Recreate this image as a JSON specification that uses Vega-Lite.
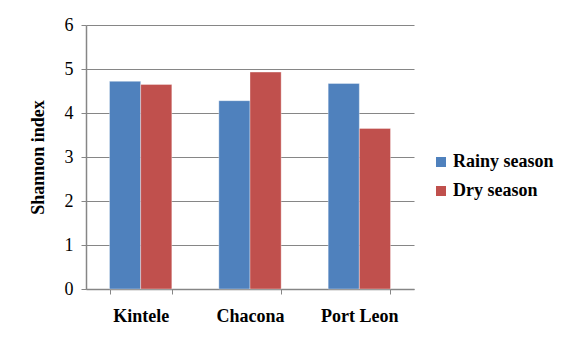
{
  "$schema": "https://vega.github.io/schema/vega-lite/v6.json",
  "autosize": "none",
  "width": 328,
  "height": 264,
  "padding": {"left": 86, "top": 25, "right": 153, "bottom": 50},
  "background": "white",
  "data": {
    "values": [
      {"site": "Kintele", "season": "Rainy season", "shannon": 4.72},
      {"site": "Kintele", "season": "Dry season", "shannon": 4.65},
      {"site": "Chacona", "season": "Rainy season", "shannon": 4.28},
      {"site": "Chacona", "season": "Dry season", "shannon": 4.93},
      {"site": "Port Leon", "season": "Rainy season", "shannon": 4.67},
      {"site": "Port Leon", "season": "Dry season", "shannon": 3.65}
    ]
  },
  "mark": {"type": "bar", "stroke": "#ffffff", "strokeOpacity": 0.35, "strokeWidth": 1},
  "encoding": {
    "x": {
      "field": "site",
      "type": "nominal",
      "sort": ["Kintele", "Chacona", "Port Leon"],
      "scale": {"paddingInner": 0.43, "paddingOuter": 0.215},
      "axis": {
        "title": null,
        "labelAngle": 0,
        "labelFont": "Liberation Serif",
        "labelFontWeight": "bold",
        "labelFontSize": 18,
        "labelColor": "#000000",
        "labelPadding": 13,
        "tickBand": "extent",
        "tickSize": 5,
        "tickColor": "#868686",
        "domainColor": "#868686",
        "domainWidth": 1.5
      }
    },
    "xOffset": {
      "field": "season",
      "type": "nominal",
      "sort": ["Rainy season", "Dry season"]
    },
    "y": {
      "field": "shannon",
      "type": "quantitative",
      "scale": {"domain": [0, 6], "nice": false},
      "axis": {
        "title": "Shannon index",
        "titleFont": "Liberation Serif",
        "titleFontWeight": "bold",
        "titleFontSize": 18,
        "titleColor": "#000000",
        "titlePadding": 17,
        "values": [0, 1, 2, 3, 4, 5, 6],
        "labelFont": "Liberation Serif",
        "labelFontSize": 18,
        "labelColor": "#000000",
        "labelPadding": 8,
        "tickSize": 5,
        "tickColor": "#868686",
        "domainColor": "#868686",
        "domainWidth": 1.5,
        "grid": true,
        "gridColor": "#868686",
        "gridWidth": 1.2
      }
    },
    "color": {
      "field": "season",
      "type": "nominal",
      "sort": ["Rainy season", "Dry season"],
      "scale": {"domain": ["Rainy season", "Dry season"], "range": ["#4F81BD", "#C0504D"]},
      "legend": {
        "title": null,
        "orient": "none",
        "legendX": 346,
        "legendY": 128,
        "symbolType": "square",
        "symbolSize": 100,
        "symbolStrokeWidth": 0,
        "labelFont": "Liberation Serif",
        "labelFontWeight": "bold",
        "labelFontSize": 18,
        "labelColor": "#000000",
        "labelOffset": 3,
        "rowPadding": 11
      }
    }
  },
  "config": {
    "view": {"stroke": null}
  }
}
